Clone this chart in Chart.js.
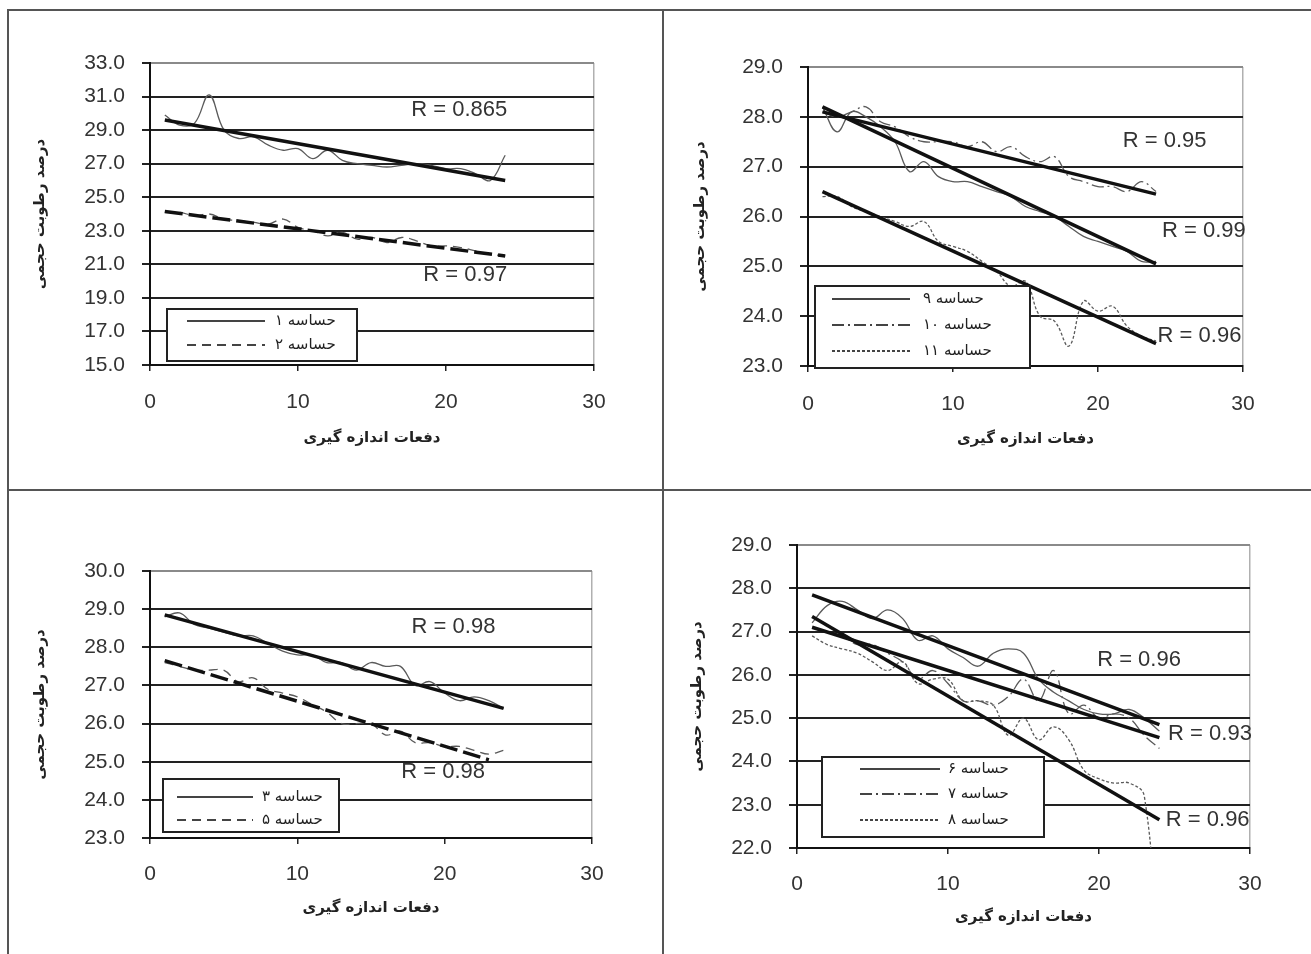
<!DOCTYPE html>
<html lang="fa">
<head>
  <meta charset="UTF-8">
  <title>Soil moisture sensors</title>
  <script src="https://cdn.jsdelivr.net/npm/chart.js"></script>
  <style>
    body { margin: 0; background: #fff; }
    #page { position: relative; width: 1311px; height: 954px; overflow: hidden; }
    canvas { position: absolute; }
    .rule { position: absolute; background: #555; }
  </style>
</head>
<body>
  <div id="page">
    <div class="rule" style="left:7px;top:9px;width:1304px;height:2px"></div>
    <div class="rule" style="left:7px;top:9px;width:2px;height:945px"></div>
    <div class="rule" style="left:662px;top:9px;width:2px;height:945px"></div>
    <div class="rule" style="left:7px;top:489px;width:1304px;height:2px"></div>
    <canvas id="p1" width="645" height="475" style="left:10px;top:12px"></canvas>
    <canvas id="p2" width="635" height="475" style="left:670px;top:12px"></canvas>
    <canvas id="p3" width="645" height="461" style="left:10px;top:493px"></canvas>
    <canvas id="p4" width="635" height="461" style="left:670px;top:493px"></canvas>
  </div>

  <script>
    // دفعات اندازه گیری
    const runs = [1, 2, 3, 4, 5, 6, 7, 8, 9, 10, 11, 12, 13, 14, 15, 16, 17, 18, 19, 20, 21, 22, 23, 24];
    const trendX = [1, 24];

    // panel 1
    const sensor1 = [29.9, 29.3, 29.4, 31.1, 29.0, 28.5, 28.6, 28.1, 27.8, 27.9, 27.3, 27.8, 27.2, 27.0, 26.9, 26.8, 26.9, 27.0, 26.9, 26.7, 26.7, 26.4, 26.0, 27.5];
    const sensor2 = [24.1, 24.1, 23.9, 24.0, 23.7, 23.6, 23.5, 23.4, 23.7, 23.2, 23.0, 22.7, 22.9, 22.5, 22.6, 22.3, 22.6, 22.4, 22.1, 22.1, 22.0, 21.8, 21.6, 21.5];
    const trend1 = [29.6, 26.0];
    const trend2 = [24.15, 21.5];

    // panel 2
    const sensor9 = [28.2, 27.7, 28.1, 28.0, 27.8, 27.5, 26.9, 27.1, 26.8, 26.7, 26.7, 26.6, 26.5, 26.4, 26.2, 26.1, 26.0, 25.8, 25.6, 25.5, 25.4, 25.3, 25.1, 25.1];
    const sensor10 = [28.1, 28.0, 28.1, 28.2, 27.9, 27.8, 27.6, 27.5, 27.5, 27.5, 27.4, 27.5, 27.3, 27.4, 27.2, 27.1, 27.2, 26.8, 26.7, 26.6, 26.6, 26.5, 26.7, 26.5];
    const sensor11 = [26.4, 26.4, 26.2, 26.1, 26.0, 25.9, 25.8, 25.9, 25.5, 25.4, 25.3, 25.1, 24.9, 24.6, 24.7, 24.0, 23.9, 23.4, 24.3, 24.1, 24.2, 23.8, 23.6, 23.5];
    const trend9 = [28.2, 25.05];
    const trend10 = [28.1, 26.45];
    const trend11 = [26.5, 23.45];

    // panel 3
    const sensor3 = [28.8, 28.9, 28.6, 28.5, 28.4, 28.3, 28.3, 28.1, 27.9, 27.8, 27.8, 27.6, 27.6, 27.4, 27.6, 27.5, 27.5, 27.0, 27.1, 26.8, 26.6, 26.7, 26.6, 26.4];
    const sensor5 = [27.6, 27.5, 27.4, 27.4, 27.4, 27.1, 27.2, 26.9, 26.8, 26.7, 26.5, 26.3, 26.0, 26.0, 26.0, 25.7, 25.8, 25.5, 25.5, 25.4, 25.4, 25.3, 25.2, 25.3];
    const trend3 = [28.85, 26.4];
    const trend5 = [27.65, 25.05];
    const trend5X = [1, 23];

    // panel 4
    const sensor6 = [27.2, 27.6, 27.7, 27.5, 27.3, 27.5, 27.3, 26.8, 26.9, 26.6, 26.4, 26.2, 26.5, 26.6, 26.5, 25.9, 25.6, 25.4, 25.2, 25.1, 25.1, 25.2, 25.0, 24.7];
    const sensor7 = [27.1, 27.0, 26.9, 26.7, 26.7, 26.5, 26.3, 25.9, 26.1, 25.8, 25.4, 25.4, 25.3, 25.5, 25.9, 25.4, 26.1, 25.1, 25.3, 25.0, 25.1, 25.0, 24.6, 24.3];
    const sensor8 = [26.9, 26.7, 26.6, 26.5, 26.3, 26.1, 26.3, 25.8, 25.9, 25.9, 25.4, 25.4, 25.3, 24.6, 25.0, 24.5, 24.8, 24.5, 23.8, 23.6, 23.5, 23.5, 23.2, 19.0];
    const trend6 = [27.85, 24.85];
    const trend7 = [27.1, 24.55];
    const trend8 = [27.35, 22.65];

    const yTitle = 'درصد رطوبت حجمی';
    const xTitle = 'دفعات اندازه گیری';

    const SOLID = [];
    const DASH = [9, 6];
    const DASHDOT = [12, 4, 2, 4];
    const DOT = [3, 2];

    function pts(xs, ys) {
      return ys.map((y, i) => ({ x: xs[i], y: y }));
    }

    function series(label, ys, dash) {
      return {
        label: label, data: pts(runs, ys), showLine: true, borderColor: '#5a5a5a',
        borderWidth: 1.3, borderDash: dash, pointRadius: 0, tension: 0.4, order: 1
      };
    }

    function trend(xs, ys, dash) {
      return {
        label: '', data: pts(xs, ys), showLine: true, borderColor: '#111',
        borderWidth: 3.5, borderDash: dash || [], pointRadius: 0, order: 0, isTrend: true
      };
    }

    // R labels and legend box, drawn on top of the plot
    const extras = {
      id: 'extras',
      afterDatasetsDraw(chart, args, opts) {
        const ctx = chart.ctx;
        const xs = chart.scales.x, ys = chart.scales.y;
        ctx.save();
        ctx.fillStyle = '#333';
        ctx.font = '22px "Liberation Sans", Arial, sans-serif';
        ctx.textAlign = 'center';
        ctx.textBaseline = 'middle';
        opts.rLabels.forEach(r => {
          ctx.fillText(r.text, xs.getPixelForValue(r.x), ys.getPixelForValue(r.y));
        });

        const b = opts.box;
        ctx.fillStyle = '#fff';
        ctx.fillRect(b.x, b.y, b.w, b.h);
        ctx.strokeStyle = '#222';
        ctx.lineWidth = 2;
        ctx.strokeRect(b.x, b.y, b.w, b.h);
        const items = chart.data.datasets.filter(d => !d.isTrend);
        items.forEach((d, i) => {
          const y = b.y + b.rows[i];
          ctx.beginPath();
          ctx.setLineDash(d.borderDash);
          ctx.strokeStyle = '#444';
          ctx.lineWidth = 2;
          ctx.moveTo(b.x + b.s0, y);
          ctx.lineTo(b.x + b.s1, y);
          ctx.stroke();
          ctx.setLineDash([]);
          ctx.fillStyle = '#222';
          ctx.font = '15px "DejaVu Sans", sans-serif';
          ctx.textAlign = 'left';
          ctx.textBaseline = 'middle';
          ctx.fillText(d.label, b.x + b.tx, y);
        });
        ctx.restore();
      }
    };

    function makePanel(id, p) {
      new Chart(document.getElementById(id), {
        type: 'scatter',
        data: { datasets: p.datasets },
        plugins: [extras],
        options: {
          responsive: false,
          animation: false,
          events: [],
          layout: { padding: { left: 0, top: p.padTop, right: p.padRight, bottom: 0 } },
          plugins: {
            legend: { display: false },
            tooltip: { enabled: false },
            extras: { rLabels: p.rLabels, box: p.box }
          },
          scales: {
            x: {
              type: 'linear', min: 0, max: 30,
              afterFit: s => { s.height = p.xH; },
              ticks: { stepSize: 10, padding: p.xTickPad, color: '#333', font: { family: 'Liberation Sans', size: 21 } },
              grid: {
                color: c => c.tick.value === 30 ? '#b0b0b0' : 'rgba(0,0,0,0)',
                lineWidth: 1.5, tickLength: 6, tickColor: '#222'
              },
              border: { color: '#111', width: 2 },
              title: {
                display: true, text: xTitle, color: '#222',
                font: { family: 'DejaVu Sans', size: 15, weight: 'bold' },
                padding: { top: 0, bottom: p.xTitlePad }
              }
            },
            y: {
              min: p.yMin, max: p.yMax,
              afterFit: s => { s.width = p.yW; },
              ticks: {
                stepSize: p.yStep, padding: 17, color: '#333',
                font: { family: 'Liberation Sans', size: 21 },
                callback: v => v.toFixed(1)
              },
              grid: {
                color: c => c.tick.value === p.yMax ? '#8a8a8a' : '#222',
                lineWidth: 2, tickLength: 8, tickColor: '#222'
              },
              border: { color: '#111', width: 2 },
              title: {
                display: true, text: yTitle, color: '#222',
                font: { family: 'DejaVu Sans', size: 15, weight: 'bold' },
                padding: { top: p.yTitlePad, bottom: 0 }
              }
            }
          }
        }
      });
    }

    makePanel('p1', {
      yMin: 15, yMax: 33, yStep: 2, yW: 140, padTop: 51, padRight: 61, xH: 122,
      xTickPad: 19, xTitlePad: 40, yTitlePad: 21,
      datasets: [
        trend(trendX, trend1), trend(trendX, trend2, [18, 6]),
        series('حساسه ۱', sensor1, SOLID), series('حساسه ۲', sensor2, DASH)
      ],
      rLabels: [{ text: 'R = 0.865', x: 20.9, y: 30.2 }, { text: 'R = 0.97', x: 21.3, y: 20.37 }],
      box: { x: 157, y: 297, w: 190, h: 52, rows: [12, 36], s0: 20, s1: 98, tx: 108 }
    });

    makePanel('p2', {
      yMin: 23, yMax: 29, yStep: 1, yW: 138, padTop: 55, padRight: 62, xH: 121,
      xTickPad: 20, xTitlePad: 39, yTitlePad: 21,
      datasets: [
        trend(trendX, trend9), trend(trendX, trend10), trend(trendX, trend11),
        series('حساسه ۹', sensor9, SOLID), series('حساسه ۱۰', sensor10, DASHDOT), series('حساسه ۱۱', sensor11, DOT)
      ],
      rLabels: [
        { text: 'R = 0.95', x: 24.6, y: 27.51 },
        { text: 'R = 0.99', x: 27.3, y: 25.71 },
        { text: 'R = 0.96', x: 27.0, y: 23.6 }
      ],
      box: { x: 145, y: 274, w: 215, h: 82, rows: [13, 39, 65], s0: 17, s1: 95, tx: 108 }
    });

    makePanel('p3', {
      yMin: 23, yMax: 30, yStep: 1, yW: 140, padTop: 78, padRight: 63, xH: 116,
      xTickPad: 18, xTitlePad: 37, yTitlePad: 21,
      datasets: [
        trend(trendX, trend3), trend(trend5X, trend5, [18, 6]),
        series('حساسه ۳', sensor3, SOLID), series('حساسه ۵', sensor5, DASH)
      ],
      rLabels: [{ text: 'R = 0.98', x: 20.6, y: 28.53 }, { text: 'R = 0.98', x: 19.9, y: 24.73 }],
      box: { x: 153, y: 286, w: 176, h: 53, rows: [18, 41], s0: 14, s1: 90, tx: 99 }
    });

    makePanel('p4', {
      yMin: 22, yMax: 29, yStep: 1, yW: 127, padTop: 52, padRight: 55, xH: 106,
      xTickPad: 18, xTitlePad: 28, yTitlePad: 18,
      datasets: [
        trend(trendX, trend6), trend(trendX, trend7), trend(trendX, trend8),
        series('حساسه ۶', sensor6, SOLID), series('حساسه ۷', sensor7, DASHDOT), series('حساسه ۸', sensor8, DOT)
      ],
      rLabels: [
        { text: 'R = 0.96', x: 22.65, y: 26.34 },
        { text: 'R = 0.93', x: 27.35, y: 24.63 },
        { text: 'R = 0.96', x: 27.2, y: 22.65 }
      ],
      box: { x: 152, y: 264, w: 222, h: 80, rows: [12, 37, 63], s0: 38, s1: 118, tx: 126 }
    });
  </script>
</body>
</html>
